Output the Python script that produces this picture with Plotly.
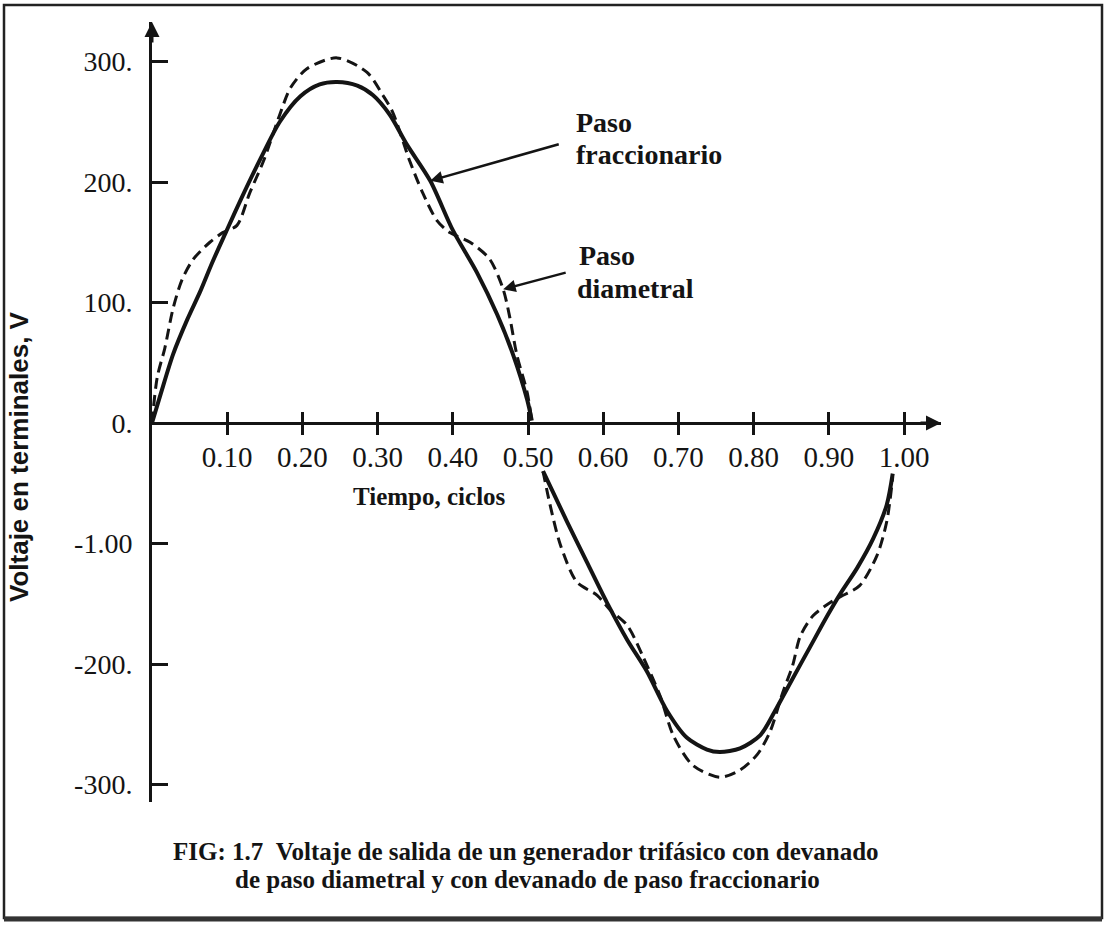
import plotly.graph_objects as go

# ---------------- data ----------------
# Paso fraccionario (solid)
t_frac_pos = [0.000, 0.012, 0.028, 0.047, 0.064, 0.080, 0.098, 0.117, 0.144, 0.170, 0.197, 0.223,
              0.246, 0.273, 0.294, 0.316, 0.339, 0.370, 0.400, 0.432, 0.459, 0.480, 0.499, 0.505]
v_frac_pos = [0, 25, 57, 86, 109, 133, 158, 184, 219, 250, 271, 281,
              283, 280, 272, 256, 231, 201, 160, 125, 90, 57, 19, 2]
t_frac_neg = [0.520, 0.552, 0.578, 0.605, 0.632, 0.658, 0.685, 0.711, 0.738, 0.755, 0.782,
              0.809, 0.831, 0.852, 0.875, 0.898, 0.915, 0.938, 0.959, 0.977, 0.985]
v_frac_neg = [-40, -82, -115, -149, -180, -206, -239, -261, -271, -273, -270,
              -259, -236, -212, -186, -160, -142, -120, -96, -68, -42]

# Paso diametral (dashed)
t_diam_pos = [0.000, 0.007, 0.017, 0.028, 0.040, 0.055, 0.077, 0.094, 0.113, 0.130, 0.148, 0.170,
              0.184, 0.206, 0.246, 0.286, 0.307, 0.320, 0.343, 0.360, 0.379, 0.396, 0.423, 0.449,
              0.467, 0.476, 0.485, 0.499, 0.505]
v_diam_pos = [0, 38, 62, 95, 119, 136, 150, 158, 164, 191, 217, 256,
              278, 294, 303, 291, 272, 258, 217, 191, 168, 158, 150, 136,
              111, 87, 57, 25, 2]
t_diam_neg = [0.520, 0.529, 0.543, 0.565, 0.592, 0.609, 0.632, 0.653, 0.676, 0.693, 0.719, 0.755,
              0.782, 0.805, 0.822, 0.838, 0.852, 0.862, 0.879, 0.902, 0.919, 0.941, 0.964, 0.977, 0.985]
v_diam_neg = [-40, -67, -101, -132, -143, -155, -168, -194, -227, -259, -284, -294,
              -288, -275, -256, -225, -201, -177, -160, -149, -143, -135, -110, -82, -45]

x_tick_vals = [0.1, 0.2, 0.3, 0.4, 0.5, 0.6, 0.7, 0.8, 0.9, 1.0]
x_tick_text = ["0.10", "0.20", "0.30", "0.40", "0.50", "0.60", "0.70", "0.80", "0.90", "1.00"]
y_tick_vals = [300, 200, 100, 0, -100, -200, -300]
y_tick_text = ["300.", "200.", "100.", "0.", "-1.00", "-200.", "-300."]

label_frac = ["Paso", "fraccionario"]
label_diam = ["Paso", "diametral"]
x_title = "Tiempo, ciclos"
y_title = "Voltaje en terminales, V"
caption_1 = "FIG: 1.7\u00a0\u00a0Voltaje de salida de un generador trifásico con devanado"
caption_2 = "de paso diametral y con devanado de paso fraccionario"

# ---------------- layout geometry (pixels) ----------------
W, H = 1108, 925
L, R, T, B = 152, 941, 22, 802
ZERO_PX = 423
K = 1.205       # px per volt
XPX = 752       # px per cycle
xmax = (R - L) / XPX
ymax = (ZERO_PX - T) / K
ymin = -(B - ZERO_PX) / K
xpos = (0 - ymin) / (ymax - ymin)


def px(x):
    return (x - L) / (R - L)


def py(y):
    return (B - y) / (B - T)


INK = "#141414"
SERIF = "Liberation Serif"

fig = go.Figure()
fig.add_trace(go.Scatter(
    x=t_diam_pos + [None] + t_diam_neg, y=v_diam_pos + [None] + v_diam_neg,
    mode="lines", xaxis="x2", yaxis="y",
    line=dict(color=INK, width=3, dash="11px,6px", shape="spline", smoothing=0.8),
    connectgaps=False, showlegend=False, hoverinfo="skip"))
fig.add_trace(go.Scatter(
    x=t_frac_pos + [None] + t_frac_neg, y=v_frac_pos + [None] + v_frac_neg,
    mode="lines",
    line=dict(color=INK, width=4, shape="spline", smoothing=0.8),
    connectgaps=False, showlegend=False, hoverinfo="skip"))

axis_common = dict(showgrid=False, zeroline=False)

fig.update_layout(
    width=W, height=H,
    margin=dict(l=L, r=W - R, t=T, b=H - B, pad=0),
    paper_bgcolor="white", plot_bgcolor="white",
    showlegend=False,
    font=dict(family=SERIF, color=INK),
    xaxis=dict(range=[0, xmax], anchor="free", position=xpos,
               showline=True, linecolor=INK, linewidth=3,
               ticks="outside", ticklen=10, tickwidth=3, tickcolor=INK,
               tickvals=x_tick_vals, ticktext=x_tick_text,
               tickfont=dict(family=SERIF, size=29, color=INK),
               ticklabelstandoff=-3, **axis_common),
    xaxis2=dict(range=[0, xmax], overlaying="x", anchor="free", position=xpos,
                showline=False, ticks="inside", ticklen=11, tickwidth=3, tickcolor=INK,
                tickvals=x_tick_vals, showticklabels=False, **axis_common),
    yaxis=dict(range=[ymin, ymax], showline=True, linecolor=INK, linewidth=3,
               ticks="inside", ticklen=16, tickwidth=3, tickcolor=INK,
               tickvals=y_tick_vals, ticktext=y_tick_text,
               tickfont=dict(family=SERIF, size=28, color=INK),
               ticklabelstandoff=11, **axis_common),
)

ann = []
# axis arrow heads
ann.append(dict(x=xmax, y=0, xref="x", yref="y", ax=-22, ay=0, text="", showarrow=True,
                arrowhead=2, arrowsize=1, arrowwidth=3, arrowcolor=INK))
ann.append(dict(x=0, y=ymax, xref="x", yref="y", ax=0, ay=22, text="", showarrow=True,
                arrowhead=2, arrowsize=1, arrowwidth=3, arrowcolor=INK))
# call-out arrows pointing to the curves
ann.append(dict(x=t_frac_pos[17], y=v_frac_pos[17], xref="x", yref="y", ax=130, ay=-37,
                text="", showarrow=True, arrowhead=2, arrowsize=1, arrowwidth=2.5, arrowcolor=INK))
ann.append(dict(x=t_diam_pos[24], y=v_diam_pos[24], xref="x2", yref="y", ax=64, ay=-17,
                text="", showarrow=True, arrowhead=2, arrowsize=1, arrowwidth=2.5, arrowcolor=INK))
# call-out labels (one annotation per printed line)
label_font = dict(family=SERIF, size=28, color=INK, weight="bold")
for txt, (xx, yy) in zip(label_frac + label_diam, [(574, 123), (574, 155), (577, 255), (575, 288)]):
    ann.append(dict(x=px(xx), y=py(yy), xref="paper", yref="paper", text=txt, showarrow=False,
                    xanchor="left", yanchor="middle", align="left", font=label_font))
# axis titles
ann.append(dict(x=px(429), y=py(496), xref="paper", yref="paper", text=x_title, showarrow=False,
                xanchor="center", yanchor="middle",
                font=dict(family=SERIF, size=25, color=INK, weight="bold")))
ann.append(dict(x=px(19), y=py(457), xref="paper", yref="paper", text=y_title, showarrow=False,
                textangle=-90, xanchor="center", yanchor="middle",
                font=dict(family="Liberation Sans", size=26, color=INK, weight="bold")))
# caption
cap_font = dict(family=SERIF, size=25, color=INK, weight="bold")
ann.append(dict(x=px(526), y=py(851), xref="paper", yref="paper", text=caption_1, showarrow=False,
                xanchor="center", yanchor="middle", font=cap_font))
ann.append(dict(x=px(527), y=py(879), xref="paper", yref="paper", text=caption_2, showarrow=False,
                xanchor="center", yanchor="middle", font=cap_font))
fig.update_layout(annotations=ann)

# page frame
fig.add_shape(type="rect", xref="paper", yref="paper",
              x0=px(4), x1=px(1102), y0=py(918), y1=py(5),
              line=dict(color="#222", width=2.5), fillcolor="rgba(0,0,0,0)", layer="above")
fig.add_shape(type="line", xref="paper", yref="paper",
              x0=px(4), x1=px(1102), y0=py(919), y1=py(919),
              line=dict(color="#333", width=5), layer="above")

fig.write_html("out.html", config={"displayModeBar": False},
               post_script="document.body.style.margin='0';document.body.style.overflow='hidden';")
